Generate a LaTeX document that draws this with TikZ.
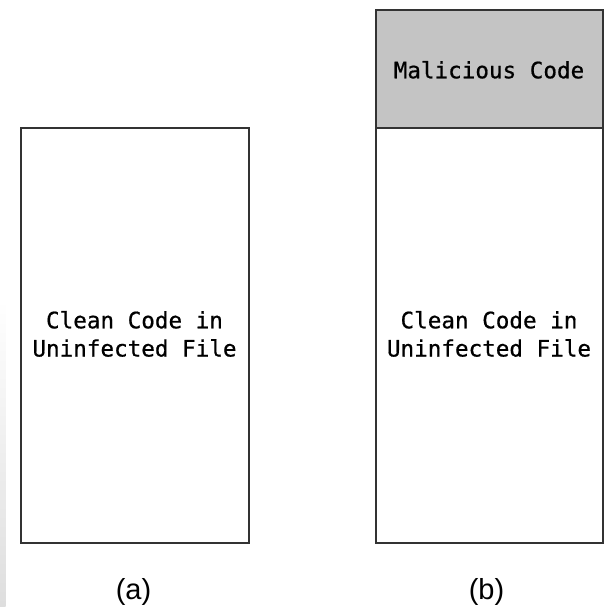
\documentclass[tikz,border=0pt]{standalone}
\usepackage{fontspec}
\setmainfont{Liberation Sans}
\newfontfamily\codefont[FakeBold=0.7]{DejaVu Sans Mono}
\begin{document}
\begin{tikzpicture}[x=1pt,y=-1pt,
    filebox/.style={draw=black!80,line width=2pt},
    codetext/.style={font=\codefont\fontsize{22.6}{28}\selectfont,anchor=base,inner sep=0pt},
    caption/.style={font=\fontsize{29}{34}\selectfont,anchor=base,inner sep=0pt}]
  \useasboundingbox (0,0) rectangle (608,607);
  % faint shadow along the left edge
  \shade[top color=white,bottom color=black!13] (0,300) rectangle (5.5,607);

  % (a) clean file
  \draw[filebox,fill=white] (20.5,128.5) rectangle (248.5,543);
  \node[codetext] (a1) at (134.5,328.3) {Clean Code in};
  \node[codetext] (a2) at (134.5,356.5) {Uninfected File};
  \node[caption] (capa) at (133.5,599.5) {(a)};

  % (b) infected file: malicious code prepended
  \draw[filebox,fill=black!23] (375.5,10.5) rectangle (602.5,128.5);
  \draw[filebox,fill=white] (375.5,128.5) rectangle (602.5,543);
  \node[codetext] (m) at (489,78.3) {Malicious Code};
  \node[codetext] (b1) at (489,328.3) {Clean Code in};
  \node[codetext] (b2) at (489,356.5) {Uninfected File};
  \node[caption] (capb) at (486.5,599.5) {(b)};
\end{tikzpicture}
\end{document}
